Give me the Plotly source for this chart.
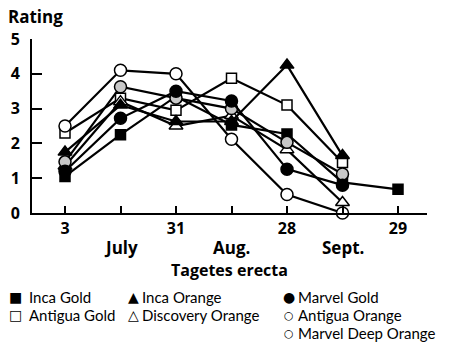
import plotly.graph_objects as go

# Sampling dates (index positions on the x axis)
dates = [0, 1, 2, 3, 4, 5, 6]
day_labels = ["3", "", "31", "", "28", "", "29"]
month_labels = ["July", "Aug.", "Sept."]
month_pos = [1, 3, 5]

# Ratings per cultivar
inca_gold = [1.05, 2.25, 3.35, 2.53, 2.27, 0.88, 0.68]
antigua_gold = [2.3, 3.3, 2.95, 3.87, 3.1, 1.45]
inca_orange = [1.75, 3.1, 2.63, 2.63, 4.25, 1.65]
discovery_orange = [1.35, 3.2, 2.5, 2.8, 1.82, 0.3]
marvel_gold = [1.2, 2.72, 3.5, 3.22, 1.26, 0.8]
antigua_orange = [2.5, 4.1, 4.0, 2.12, 0.53, 0.0]
marvel_deep_orange = [1.47, 3.63, 3.3, 3.0, 2.03, 1.12]

W, H = 450, 342
ML, MR, MT, MB = 32, 23, 39, 129
PW, PH = W - ML - MR, H - MT - MB


def px_x(px):
    return (px - ML) / PW


def px_y(py):
    return (H - MB - py) / PH


series = [
    ("Inca Gold", inca_gold, "square", "black", 10),
    ("Antigua Gold", antigua_gold, "square", "white", 10),
    ("Discovery Orange", discovery_orange, "triangle-up", "white", 12),
    ("Inca Orange", inca_orange, "triangle-up", "black", 12),
    ("Marvel Deep Orange", marvel_deep_orange, "circle", "#c8c8c8", 12),
    ("Antigua Orange", antigua_orange, "circle", "white", 12),
    ("Marvel Gold", marvel_gold, "circle", "black", 12),
]

fig = go.Figure()
for name, vals, sym, fill, size in series:
    fig.add_trace(go.Scatter(
        x=dates[:len(vals)], y=vals, name=name, mode="lines+markers",
        line=dict(color="black", width=2.2),
        marker=dict(symbol=sym, size=size, color=fill,
                    line=dict(color="black", width=1.5)),
        cliponaxis=False, showlegend=False,
    ))

BOLD = "Open Sans"
tick_font = dict(family=BOLD, size=16, color="black", weight="bold")

fig.update_xaxes(
    range=[(ML - 65) / 55.5, (ML + PW - 65) / 55.5],
    tickmode="array", tickvals=dates, ticktext=day_labels,
    ticks="inside", ticklen=7, tickwidth=2, tickcolor="black",
    showline=True, linewidth=2, linecolor="black",
    showgrid=False, zeroline=False, tickfont=tick_font,
    ticklabelstandoff=0,
)
fig.update_yaxes(
    range=[0, 5], tickmode="array", tickvals=[0, 1, 2, 3, 4, 5],
    ticks="inside", ticklen=10, tickwidth=2, tickcolor="black",
    showline=True, linewidth=2, linecolor="black",
    showgrid=False, zeroline=False, tickfont=tick_font,
    ticklabelstandoff=7,
)

annotations = [
    dict(text="<b>Rating</b>", x=px_x(6), y=px_y(16), xanchor="left",
         yanchor="middle", font=dict(family=BOLD, size=17, color="black")),
    dict(text="<b>Tagetes erecta</b>", x=0.5, y=px_y(270), xanchor="center",
         yanchor="middle", font=dict(family=BOLD, size=16, color="black")),
]
for m, p in zip(month_labels, month_pos):
    annotations.append(dict(
        text=f"<b>{m}</b>", x=p, xref="x", y=px_y(247), xanchor="center",
        yanchor="middle", font=dict(family=BOLD, size=17, color="black")))

# Key to the cultivar symbols
key_rows = [
    [("■", "Inca Gold"), ("▲", "Inca Orange"), ("●", "Marvel Gold")],
    [("□", "Antigua Gold"), ("△", "Discovery Orange"), ("○", "Antigua Orange")],
    [None, None, ("○", "Marvel Deep Orange")],
]
glyph_x = [15.5, 133.5, 289]
text_x = [27, 140, 296]
row_y = [297, 315, 333]
key_font = dict(family="Lato", size=15, color="black")
for r, row in enumerate(key_rows):
    for c, entry in enumerate(row):
        if entry is None:
            continue
        glyph, label = entry
        gsize = 11 if glyph == "○" else 14
        annotations.append(dict(
            text=glyph, x=px_x(glyph_x[c]), y=px_y(row_y[r]), xanchor="center",
            yanchor="middle",
            font=dict(family="DejaVu Sans", size=gsize, color="black")))
        annotations.append(dict(
            text=label, x=px_x(text_x[c]), y=px_y(row_y[r]), xanchor="left",
            yanchor="middle", font=key_font))

for a in annotations:
    a.setdefault("xref", "paper")
    a.setdefault("yref", "paper")
    a["showarrow"] = False

fig.update_layout(
    width=W, height=H,
    margin=dict(l=ML, r=MR, t=MT, b=MB),
    paper_bgcolor="white", plot_bgcolor="white",
    annotations=annotations,
)

fig.write_html("out.html")
